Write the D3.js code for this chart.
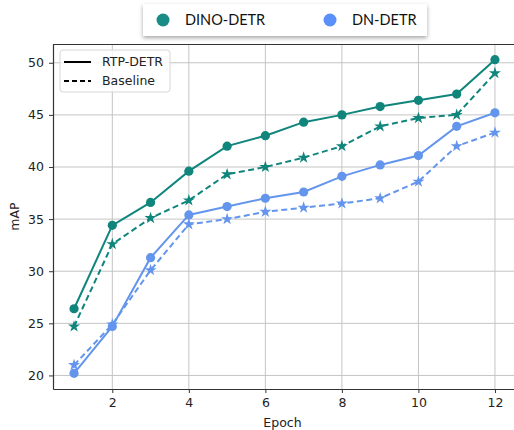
<!DOCTYPE html>
<html>
<head>
<meta charset="utf-8">
<script src="https://cdn.jsdelivr.net/npm/d3@7"></script>
<style>
  body { margin: 0; background: #fff; }
  svg { display: block; }
</style>
</head>
<body>
<div id="chart"></div>
<script>
// values
const epochs = [1, 2, 3, 4, 5, 6, 7, 8, 9, 10, 11, 12];
const dinoRtp = [26.4, 34.4, 36.6, 39.6, 42.0, 43.0, 44.3, 45.0, 45.8, 46.4, 47.0, 50.3];
const dinoBase = [24.7, 32.6, 35.1, 36.8, 39.3, 40.0, 40.9, 42.0, 43.9, 44.7, 45.0, 49.0];
const dnRtp = [20.2, 24.7, 31.3, 35.4, 36.2, 37.0, 37.6, 39.1, 40.2, 41.1, 43.9, 45.2];
const dnBase = [21.0, 24.9, 30.1, 34.5, 35.0, 35.7, 36.1, 36.5, 37.0, 38.6, 42.0, 43.3];
const xTicks = [2, 4, 6, 8, 10, 12];
const yTicks = [20, 25, 30, 35, 40, 45, 50];
const models = ["DINO-DETR", "DN-DETR"];

const teal = "#0f857c";
const blue = "#6495ed";

const width = 514;
const height = 430;
const margin = {top: 44, right: -2, bottom: 41, left: 53};

const svg = d3.select("#chart")
  .append("svg")
    .attr("width", width)
    .attr("height", height)
    .attr("font-family", "DejaVu Sans, sans-serif");

const x = d3.scaleLinear()
    .domain([0.45, 12.55])
    .range([margin.left, width - margin.right]);

const y = d3.scaleLinear()
    .domain([18.7, 51.8])
    .range([height - margin.bottom, margin.top]);

// grid
svg.append("g")
  .selectAll("line")
  .data(xTicks)
  .join("line")
    .attr("x1", d => x(d)).attr("x2", d => x(d))
    .attr("y1", y.range()[1]).attr("y2", y.range()[0])
    .attr("stroke", "#c4c4c4")
    .attr("stroke-width", 1);

svg.append("g")
  .selectAll("line")
  .data(yTicks)
  .join("line")
    .attr("x1", x.range()[0]).attr("x2", x.range()[1])
    .attr("y1", d => y(d)).attr("y2", d => y(d))
    .attr("stroke", "#c4c4c4")
    .attr("stroke-width", 1);

// axes
const xAxis = svg.append("g")
  .attr("transform", "translate(0," + y.range()[0] + ")")
  .call(d3.axisBottom(x).tickValues(xTicks).tickSize(4).tickPadding(5).tickSizeOuter(0));

const yAxis = svg.append("g")
  .attr("transform", "translate(" + x.range()[0] + ",0)")
  .call(d3.axisLeft(y).tickValues(yTicks).tickSize(4).tickPadding(5).tickSizeOuter(0));

[xAxis, yAxis].forEach(a => {
  a.select(".domain").attr("stroke", "#333").attr("stroke-width", 1.2);
  a.selectAll(".tick line").attr("stroke", "#333");
  a.selectAll("text").attr("font-size", 12.5).attr("fill", "#222").attr("font-family", "DejaVu Sans, sans-serif");
});

// top spine
svg.append("line")
  .attr("x1", x.range()[0]).attr("x2", x.range()[1])
  .attr("y1", y.range()[1] + 0.5).attr("y2", y.range()[1] + 0.5)
  .attr("stroke", "#333").attr("stroke-width", 1.2);

svg.append("text")
  .attr("x", (x(0.45) + x(12.55)) / 2 - 2)
  .attr("y", 427)
  .attr("text-anchor", "middle")
  .attr("font-size", 12.5)
  .attr("fill", "#222")
  .text("Epoch");

svg.append("text")
  .attr("transform", "translate(19," + ((y.range()[0] + y.range()[1]) / 2) + ") rotate(-90)")
  .attr("text-anchor", "middle")
  .attr("font-size", 12.5)
  .attr("fill", "#222")
  .text("mAP");

// series
const series = [
  {values: dinoBase, color: teal, dashed: true},
  {values: dnBase, color: blue, dashed: true},
  {values: dinoRtp, color: teal, dashed: false},
  {values: dnRtp, color: blue, dashed: false}
];

const line = d3.line()
  .x((d, i) => x(epochs[i]))
  .y(d => y(d));

const star = d3.symbol().type(d3.symbolStar).size(45);

series.forEach(s => {
  svg.append("path")
    .datum(s.values)
    .attr("fill", "none")
    .attr("stroke", s.color)
    .attr("stroke-width", 2)
    .attr("stroke-dasharray", s.dashed ? "6,3.5" : null)
    .attr("d", line);

  if (s.dashed) {
    svg.append("g")
      .selectAll("path")
      .data(s.values)
      .join("path")
        .attr("transform", (d, i) => "translate(" + x(epochs[i]) + "," + y(d) + ")")
        .attr("d", star)
        .attr("fill", s.color);
  } else {
    svg.append("g")
      .selectAll("circle")
      .data(s.values)
      .join("circle")
        .attr("cx", (d, i) => x(epochs[i]))
        .attr("cy", d => y(d))
        .attr("r", 4.6)
        .attr("fill", s.color);
  }
});

// inner legend (line style)
const leg = svg.append("g").attr("transform", "translate(60,50)");
leg.append("rect")
  .attr("width", 110).attr("height", 42)
  .attr("rx", 3)
  .attr("fill", "rgba(255,255,255,0.8)")
  .attr("stroke", "#d6d6d6");
[["RTP-DETR", null], ["Baseline", "5,3"]].forEach((d, i) => {
  leg.append("line")
    .attr("x1", 4).attr("x2", 31)
    .attr("y1", 12 + i * 19).attr("y2", 12 + i * 19)
    .attr("stroke", "#000")
    .attr("stroke-width", 2)
    .attr("stroke-dasharray", d[1]);
  leg.append("text")
    .attr("x", 42).attr("y", 12 + i * 19)
    .attr("dy", "0.35em")
    .attr("font-size", 12.5)
    .attr("fill", "#222")
    .text(d[0]);
});

// top legend (models)
const defs = svg.append("defs");
const filter = defs.append("filter").attr("id", "shadow")
  .attr("x", "-10%").attr("y", "-30%").attr("width", "120%").attr("height", "170%");
filter.append("feDropShadow")
  .attr("dx", 0).attr("dy", 2).attr("stdDeviation", 2)
  .attr("flood-color", "#000").attr("flood-opacity", 0.35);

const modelLegend = svg.append("g").attr("transform", "translate(143,4)");
modelLegend.append("rect")
  .attr("width", 284).attr("height", 32)
  .attr("fill", "#fff")
  .attr("filter", "url(#shadow)");
const modelColors = ["#1a8c86", "#5b8ff9"];
const modelX = [20, 187];
models.forEach((m, i) => {
  modelLegend.append("circle")
    .attr("cx", modelX[i]).attr("cy", 16)
    .attr("r", 6.5)
    .attr("fill", modelColors[i]);
  modelLegend.append("text")
    .attr("x", modelX[i] + 22).attr("y", 16)
    .attr("dy", "0.36em")
    .attr("font-family", "Lato, sans-serif")
    .attr("font-size", 14.5)
    .attr("fill", "#111")
    .text(m);
});
</script>
</body>
</html>
